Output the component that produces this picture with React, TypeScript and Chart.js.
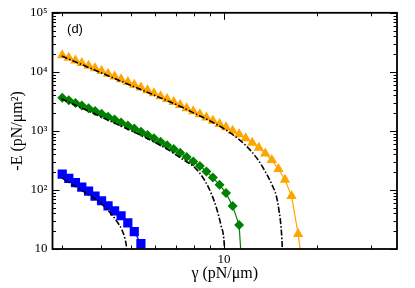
import React, { useEffect, useRef } from "react";
import { Chart, registerables } from "chart.js";

Chart.register(...registerables);

// γ values of the simulated points (pN/μm)
const gammaSteps = [3.0, 3.15, 3.31, 3.47, 3.65, 3.83, 4.02, 4.22, 4.43, 4.65, 4.89, 5.13, 5.39, 5.66, 5.94, 6.24, 6.55, 6.88, 7.22, 7.58, 7.96, 8.36, 8.78, 9.21, 9.68, 10.16, 10.67, 11.2, 11.76, 12.35, 12.97, 13.61, 14.29, 15.01, 15.76, 16.55, 17.38, 18.25];

// -E values (pN/μm²) of the markers
const energyOrange = [19055, 17250, 15610, 14080, 12740, 11480, 10350, 9330, 8380, 7530, 6760, 6070, 5430, 4860, 4350, 3875, 3454, 3078, 2733, 2427, 2154, 1905, 1685, 1485, 1308, 1148, 1004, 874, 750, 631, 517, 414, 320, 226, 148.5, 78.8, 18.0, 2.6];
const energyGreen = [3659, 3298, 2974, 2681, 2408, 2163, 1943, 1738, 1555, 1386, 1235, 1096, 970, 854, 750, 656, 571, 495, 425, 362, 304, 254, 206, 162, 122, 88.4, 53.7, 25.4, 0.5];
const energyBlue = [184.8, 157.3, 133.4, 111.3, 95.5, 78.8, 65.6, 53.7, 44.3, 36.6, 27.8, 19.7, 12.3, 2];

// theory curves (dash-dot)
const gammaTheoryOrange = [2.99, 3.97, 4.96, 6.21, 7.2, 8.06, 9.13, 10.33, 11.7, 12.76, 13.57, 14.27, 14.81, 15.07, 15.3, 15.44, 15.5];
const energyTheoryOrange = [18480, 9848, 6003, 3659, 2620, 1965, 1429, 974, 584, 349, 210, 126, 75.3, 45.2, 23.8, 11.05, 5];
const gammaTheoryGreen = [2.98, 3.97, 4.96, 5.76, 6.53, 7.38, 8.06, 8.68, 9.13, 9.47, 9.78, 10.02, 10.1];
const energyTheoryGreen = [3494, 1765, 1031, 708, 497, 326, 238, 143, 83.5, 48.8, 25.4, 12.6, 5];
const gammaTheoryBlue = [2.99, 3.5, 3.82, 4.07, 4.34, 4.5, 4.68, 4.78, 4.83, 4.87];
const energyTheoryBlue = [160, 95.5, 71.6, 54.7, 38.0, 29.6, 21.0, 15.4, 11.8, 8];

// axes
const xTickValues = [10];
const xTickLabels = ["10"];
const xMinorTicks = [3, 4, 5, 6, 7, 8, 9, 20, 30];
const yTickValues = [10, 100, 1000, 10000, 100000];
const yTickLabels = ["10", "10²", "10³", "10⁴", "10⁵"];
const yMinorMultipliers = [2, 3, 4, 5, 6, 7, 8, 9];

const SERIF = '"Liberation Serif", "Times New Roman", serif';

const pts = (xs: number[], ys: number[]) => ys.map((y, i) => ({ x: xs[i], y }));

const framePlugin = {
  id: "frameTicks",
  afterDatasetsDraw(chart: any) {
    const { ctx, chartArea, scales } = chart;
    const { left, right, top, bottom } = chartArea;
    const x = scales.x;
    const y = scales.y;
    ctx.save();
    ctx.strokeStyle = "#000";
    ctx.lineWidth = 1;
    ctx.beginPath();
    const major = 7;
    const minor = 3.5;
    yTickValues.forEach((v) => {
      const p = Math.round(y.getPixelForValue(v)) + 0.5;
      ctx.moveTo(left, p); ctx.lineTo(left + major, p);
      ctx.moveTo(right, p); ctx.lineTo(right - major, p);
    });
    yTickValues.slice(0, -1).forEach((d) => {
      yMinorMultipliers.forEach((k) => {
        const p = Math.round(y.getPixelForValue(d * k)) + 0.5;
        ctx.moveTo(left, p); ctx.lineTo(left + minor, p);
        ctx.moveTo(right, p); ctx.lineTo(right - minor, p);
      });
    });
    xTickValues.forEach((v) => {
      const p = Math.round(x.getPixelForValue(v)) + 0.5;
      ctx.moveTo(p, bottom); ctx.lineTo(p, bottom - major);
      ctx.moveTo(p, top); ctx.lineTo(p, top + major);
    });
    xMinorTicks.forEach((v) => {
      const p = Math.round(x.getPixelForValue(v)) + 0.5;
      ctx.moveTo(p, bottom); ctx.lineTo(p, bottom - minor);
      ctx.moveTo(p, top); ctx.lineTo(p, top + minor);
    });
    ctx.stroke();
    ctx.lineWidth = 1.8;
    ctx.strokeRect(left, top, right - left, bottom - top);
    ctx.fillStyle = "#000";
    ctx.font = '13px "Liberation Sans", Arial, sans-serif';
    ctx.textAlign = "center";
    ctx.textBaseline = "middle";
    ctx.fillText("(d)", left + 22.5, top + 17);
    ctx.restore();
  },
};

export default function App() {
  const canvasRef = useRef<HTMLCanvasElement | null>(null);

  useEffect(() => {
    if (!canvasRef.current) return;
    const theory = (xs: number[], ys: number[]) => ({
      data: pts(xs, ys),
      showLine: true,
      borderColor: "#000",
      borderWidth: 1.6,
      borderDash: [6, 2, 1.5, 2],
      pointRadius: 0,
      cubicInterpolationMode: "monotone" as const,
      clip: 0,
    });
    const series = (xs: number[], ys: number[], color: string, style: string, r: number) => ({
      data: pts(xs, ys),
      showLine: true,
      borderColor: color,
      borderWidth: 1.2,
      backgroundColor: color,
      pointBackgroundColor: color,
      pointBorderColor: color,
      pointBorderWidth: 0,
      pointStyle: style,
      pointRadius: r,
      clip: 0,
    });
    const chart = new Chart(canvasRef.current, {
      type: "scatter",
      data: {
        datasets: [
          theory(gammaTheoryOrange, energyTheoryOrange),
          theory(gammaTheoryGreen, energyTheoryGreen),
          theory(gammaTheoryBlue, energyTheoryBlue),
          series(gammaSteps, energyOrange, "#FFA500", "triangle", 6),
          series(gammaSteps, energyGreen, "#008000", "rectRot", 5),
          series(gammaSteps, energyBlue, "#0000FF", "rect", 6.5),
        ] as any,
      },
      options: {
        animation: false,
        responsive: false,
        devicePixelRatio: 1,
        layout: { padding: { top: 9, right: 18, left: 0, bottom: 0 } },
        plugins: { legend: { display: false }, tooltip: { enabled: false } },
        scales: {
          x: {
            type: "logarithmic",
            min: 2.79,
            max: 36.3,
            afterBuildTicks: (s: any) => {
              s.ticks = xTickValues.map((v) => ({ value: v }));
            },
            afterFit: (s: any) => {
              s.height = 39;
            },
            ticks: {
              autoSkip: false,
              maxRotation: 0,
              padding: 3,
              color: "#000",
              font: { family: SERIF, size: 13 },
              callback: (v: any) => {
                const i = xTickValues.indexOf(Number(v));
                return i >= 0 ? xTickLabels[i] : "";
              },
            },
            grid: { display: false, drawTicks: false },
            border: { display: false },
            title: {
              display: true,
              text: "γ (pN/μm)",
              color: "#000",
              font: { family: SERIF, size: 16 },
              padding: { top: 0, bottom: 4.4 },
            },
          },
          y: {
            type: "logarithmic",
            min: 10,
            max: 100000,
            afterBuildTicks: (s: any) => {
              s.ticks = yTickValues.map((v) => ({ value: v }));
            },
            afterFit: (s: any) => {
              s.width = 52.5;
            },
            ticks: {
              autoSkip: false,
              padding: 5,
              color: "#000",
              font: { family: SERIF, size: 13 },
              callback: (v: any) => {
                const i = yTickValues.indexOf(Number(v));
                return i >= 0 ? yTickLabels[i] : "";
              },
            },
            grid: { display: false, drawTicks: false },
            border: { display: false },
            title: {
              display: true,
              text: "-E (pN/μm²)",
              color: "#000",
              font: { family: SERIF, size: 16 },
              padding: { top: 8, bottom: 0 },
            },
          },
        },
      },
      plugins: [framePlugin],
    });
    return () => chart.destroy();
  }, []);

  return (
    <div style={{ position: "fixed", left: 0, top: 0, width: 415, height: 288, background: "#fff" }}>
      <canvas ref={canvasRef} width={415} height={288} style={{ display: "block" }} />
    </div>
  );
}
